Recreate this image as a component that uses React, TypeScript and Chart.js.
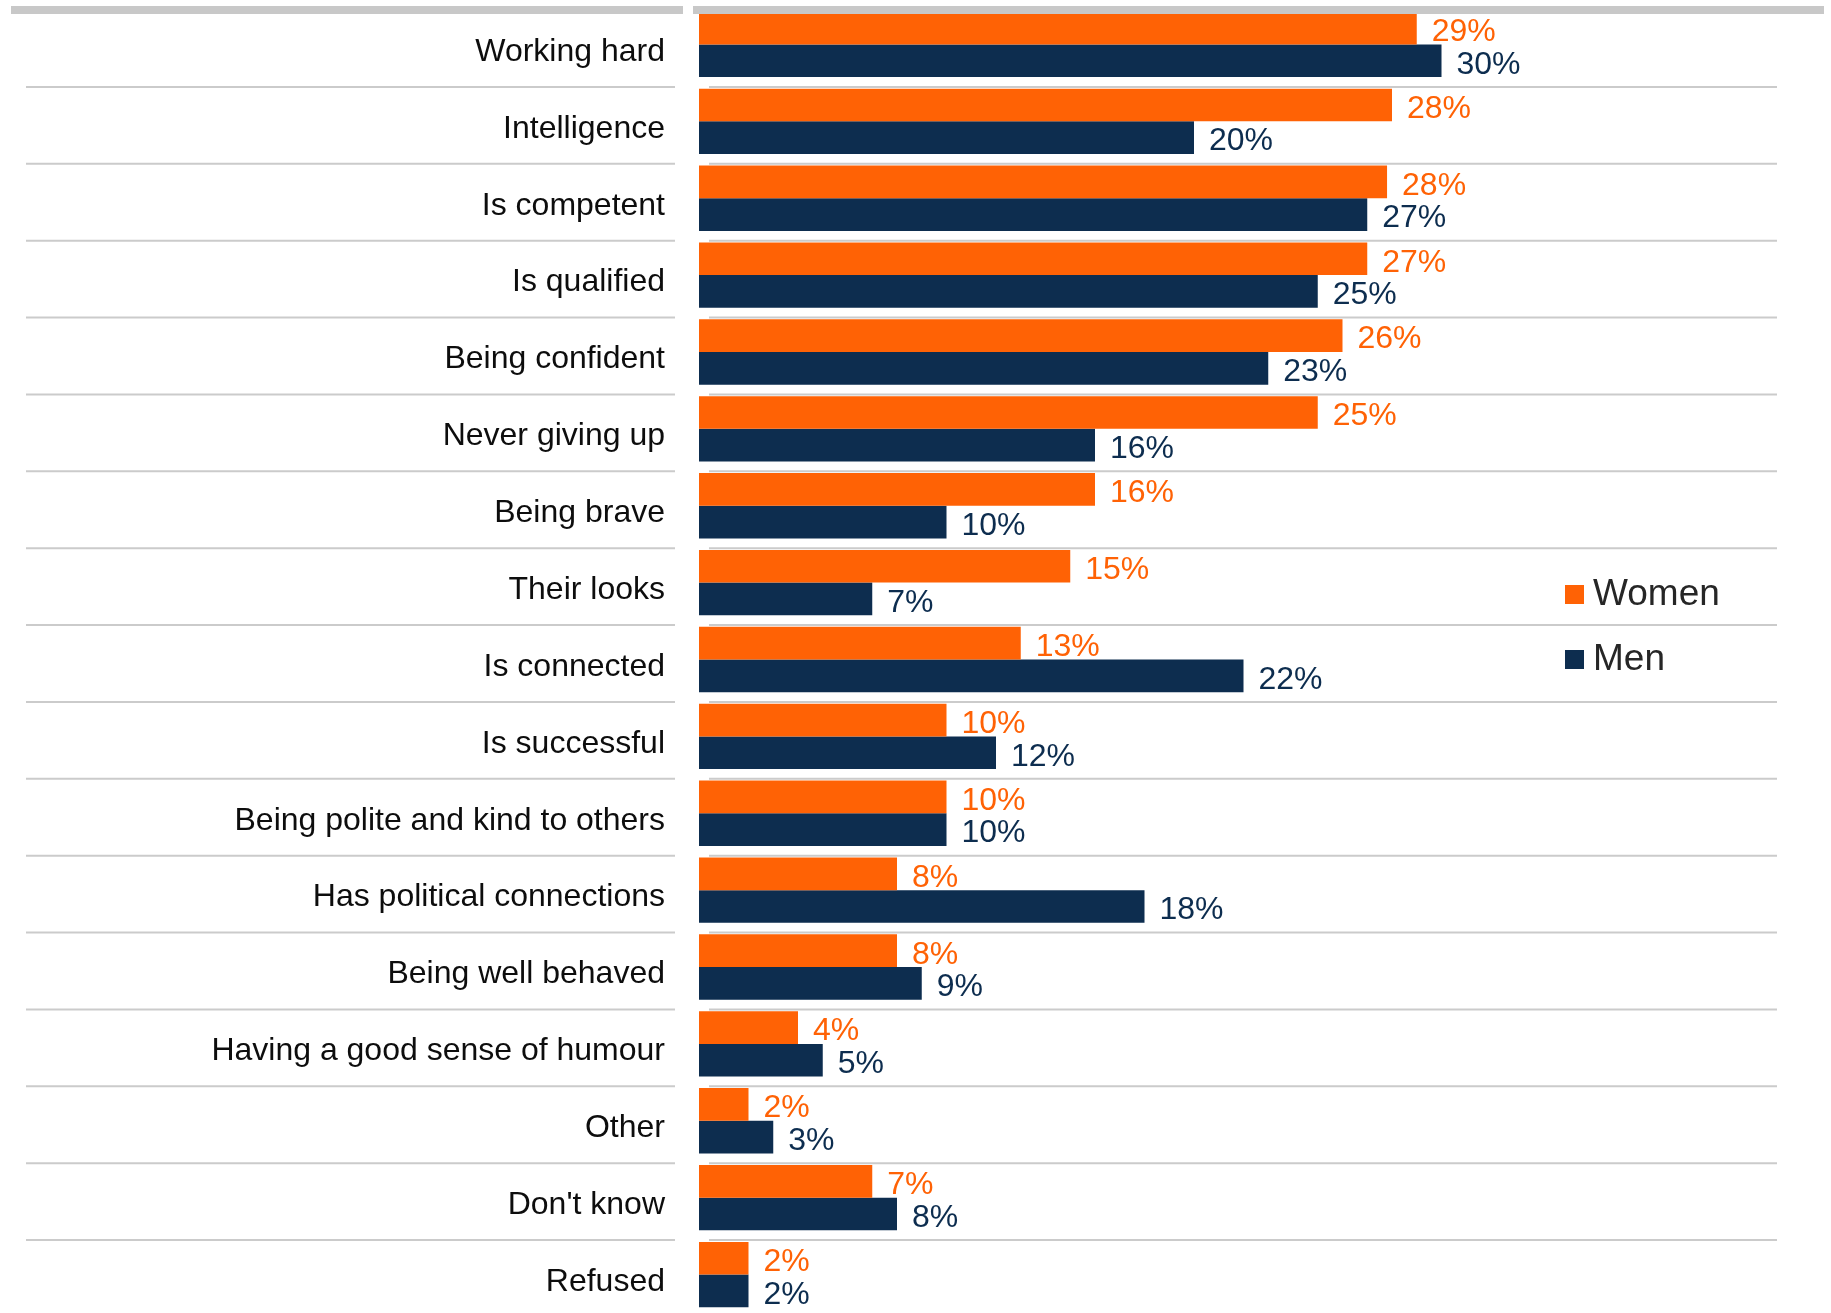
import React, { useEffect, useRef } from 'react';
import { Chart, registerables } from 'chart.js';

Chart.register(...registerables);

const categories = [
  'Working hard',
  'Intelligence',
  'Is competent',
  'Is qualified',
  'Being confident',
  'Never giving up',
  'Being brave',
  'Their looks',
  'Is connected',
  'Is successful',
  'Being polite and kind to others',
  'Has political connections',
  'Being well behaved',
  'Having a good sense of humour',
  'Other',
  "Don't know",
  'Refused',
];
const womenValues = [29, 28, 27.8, 27, 26, 25, 16, 15, 13, 10, 10, 8, 8, 4, 2, 7, 2];
const menValues = [30, 20, 27, 25, 23, 16, 10, 7, 22, 12, 10, 18, 9, 5, 3, 8, 2];
const seriesNames = ['Women', 'Men'];
const seriesColors = ['#FF6205', '#0D2D4F'];
const xMax = 44;

const FONT = '"Liberation Sans", Arial, Helvetica, sans-serif';

const decorPlugin = {
  id: 'decor',
  beforeDatasetsDraw(chart: any) {
    const { ctx } = chart;
    const y = chart.scales.y;
    const n = chart.data.labels.length;
    const step = (y.bottom - y.top) / n;
    ctx.save();
    ctx.strokeStyle = '#cbcbcb';
    ctx.lineWidth = 2;
    for (let k = 1; k < n; k++) {
      const yy = y.getPixelForValue(k) - step / 2 + 4;
      ctx.beginPath();
      ctx.moveTo(26, yy);
      ctx.lineTo(675, yy);
      ctx.moveTo(709, yy);
      ctx.lineTo(1777, yy);
      ctx.stroke();
    }
    ctx.restore();
  },
  afterDatasetsDraw(chart: any) {
    const { ctx } = chart;
    ctx.save();
    // value labels
    ctx.font = `32px ${FONT}`;
    ctx.textAlign = 'left';
    ctx.textBaseline = 'middle';
    chart.data.datasets.forEach((ds: any, d: number) => {
      const meta = chart.getDatasetMeta(d);
      ctx.fillStyle = ds.backgroundColor;
      meta.data.forEach((bar: any, i: number) => {
        const v = ds.data[i];
        ctx.fillText(`${Math.round(v)}%`, bar.x + 15, bar.y + 4);
      });
    });
    // top rule
    ctx.fillStyle = '#c8c8c8';
    ctx.fillRect(11, 6, 672, 8);
    ctx.fillRect(693, 6, 1131, 8);
    ctx.restore();
  },
  afterDraw(chart: any) {
    const { ctx } = chart;
    ctx.save();
    ctx.font = `37px ${FONT}`;
    ctx.textAlign = 'left';
    ctx.textBaseline = 'middle';
    chart.data.datasets.forEach((ds: any, d: number) => {
      const top = 585 + 65 * d;
      ctx.fillStyle = ds.backgroundColor;
      ctx.fillRect(1565, top, 19, 19);
      ctx.fillStyle = '#262626';
      ctx.fillText(ds.label, 1593, top + 9.5);
    });
    ctx.restore();
  },
};

export default function App() {
  const canvasRef = useRef<HTMLCanvasElement | null>(null);

  useEffect(() => {
    if (!canvasRef.current) return;
    const chart = new Chart(canvasRef.current, {
      type: 'bar',
      data: {
        labels: categories,
        datasets: [
          {
            label: seriesNames[0],
            data: womenValues,
            backgroundColor: seriesColors[0],
            borderWidth: 0,
            categoryPercentage: 0.85,
            barPercentage: 1,
          },
          {
            label: seriesNames[1],
            data: menValues,
            backgroundColor: seriesColors[1],
            borderWidth: 0,
            categoryPercentage: 0.85,
            barPercentage: 1,
          },
        ],
      },
      options: {
        indexAxis: 'y',
        animation: false,
        responsive: true,
        maintainAspectRatio: false,
        layout: { padding: { top: 6, bottom: -1.5, left: 0, right: 43 } },
        plugins: {
          legend: { display: false },
          tooltip: { enabled: false },
          title: { display: false },
        },
        scales: {
          x: {
            display: false,
            min: 0,
            max: xMax,
          },
          y: {
            type: 'category',
            grid: { display: false, drawTicks: false, tickLength: 0 },
            border: { display: false },
            ticks: {
              autoSkip: false,
              padding: 34,
              labelOffset: 7.5,
              color: '#0d0d0d',
              font: { family: FONT, size: 32 },
            },
            afterFit: (scale: any) => {
              scale.width = 699;
              scale.paddingTop = 0;
              scale.paddingBottom = 0;
            },
          },
        },
      },
      plugins: [decorPlugin],
    });
    return () => chart.destroy();
  }, []);

  return (
    <div
      style={{
        position: 'absolute',
        left: 0,
        top: 0,
        width: '1831px',
        height: '1313px',
        background: '#ffffff',
      }}
    >
      <canvas ref={canvasRef} />
    </div>
  );
}
